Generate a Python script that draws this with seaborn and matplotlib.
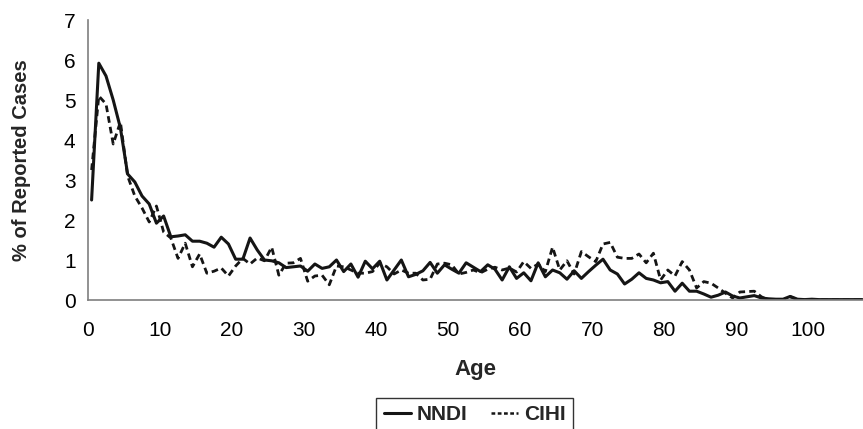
import numpy as np
import pandas as pd
import matplotlib
matplotlib.use("Agg")
import matplotlib.pyplot as plt
from matplotlib.lines import Line2D
import seaborn as sns

# Age groups 0..107 and the share of reported cases in each, by data source
ages = list(range(108))

nndi = [2.5, 5.92, 5.6, 5.0, 4.3, 3.15, 2.95, 2.6, 2.4, 1.92,
        2.1, 1.58, 1.6, 1.63, 1.47, 1.47, 1.42, 1.32, 1.57, 1.4,
        1.02, 1.02, 1.55, 1.25, 1.0, 0.98, 0.93, 0.81, 0.83, 0.85,
        0.72, 0.9, 0.79, 0.83, 1.0, 0.71, 0.9, 0.57, 0.97, 0.78,
        0.97, 0.5, 0.75, 1.0, 0.58, 0.64, 0.73, 0.94, 0.67, 0.88,
        0.77, 0.67, 0.93, 0.82, 0.71, 0.88, 0.77, 0.5, 0.83, 0.54,
        0.68, 0.48, 0.93, 0.58, 0.75, 0.68, 0.52, 0.73, 0.54, 0.71,
        0.87, 1.02, 0.75, 0.65, 0.4, 0.52, 0.68, 0.54, 0.5, 0.43,
        0.46, 0.22, 0.42, 0.22, 0.22, 0.15, 0.07, 0.12, 0.2, 0.1,
        0.05, 0.08, 0.11, 0.05, 0.03, 0.02, 0.02, 0.09, 0.02, 0.01,
        0.02, 0.01, 0.01, 0.01, 0.01, 0.01, 0.01, 0.01]

cihi = [3.25, 5.1, 4.9, 3.9, 4.45, 3.1, 2.6, 2.3, 1.95, 2.35,
        1.7, 1.55, 1.04, 1.42, 0.83, 1.15, 0.67, 0.72, 0.8, 0.6,
        0.85, 1.04, 0.9, 1.05, 0.98, 1.32, 0.62, 0.92, 0.93, 1.04,
        0.47, 0.6, 0.62, 0.38, 0.85, 0.83, 0.75, 0.67, 0.67, 0.71,
        0.92, 0.83, 0.65, 0.75, 0.67, 0.67, 0.5, 0.52, 0.9, 0.92,
        0.88, 0.65, 0.69, 0.75, 0.68, 0.77, 0.82, 0.75, 0.8, 0.7,
        0.96, 0.79, 0.9, 0.71, 1.32, 0.75, 0.98, 0.65, 1.21, 1.08,
        0.96, 1.4, 1.44, 1.07, 1.04, 1.04, 1.15, 0.93, 1.17, 0.5,
        0.75, 0.6, 0.96, 0.75, 0.3, 0.46, 0.42, 0.3, 0.17, 0.05,
        0.2, 0.21, 0.22, 0.08, 0.0, 0.0, 0.0, 0.08, 0.01, 0.0,
        0.0, 0.0, 0.0, 0.0, 0.0, 0.0, 0.0, 0.0]

series_names = ["NNDI", "CIHI"]
x_ticks = list(range(0, 101, 10))
y_ticks = list(range(0, 8))

df = pd.DataFrame({"Age": ages, "NNDI": nndi, "CIHI": cihi})
# each age group is drawn at the middle of its one-year interval
df["pos"] = df["Age"] + 0.5

sns.set_theme(style="white")
plt.rcParams["font.family"] = ["Liberation Sans", "DejaVu Sans"]

W, H = 863, 429
fig = plt.figure(figsize=(W / 100, H / 100), dpi=100)
ax = fig.add_axes([88 / W, (H - 300) / H, 1 - 88 / W, 280 / H])

ink = "#151515"
solid_style = dict(color=ink, lw=2.2)
dash_style = dict(color=ink, lw=2.0, linestyle=(0, (2.4, 1.5)))

sns.lineplot(data=df, x="pos", y="NNDI", ax=ax, **solid_style)
sns.lineplot(data=df, x="pos", y="CIHI", ax=ax, **dash_style)

ax.set_xlim(0, 107.6)
ax.set_ylim(0, 7)
ax.set_xticks(x_ticks)
ax.set_yticks(y_ticks)
ax.set_xticklabels([str(t) for t in x_ticks], fontsize=15)
ax.set_yticklabels([str(t) for t in y_ticks], fontsize=15)

for s in ["top", "right"]:
    ax.spines[s].set_visible(False)
for s in ["left", "bottom"]:
    ax.spines[s].set_color("#7f7f7f")
    ax.spines[s].set_linewidth(1.2)
ax.tick_params(axis="both", which="major", direction="out", length=4,
               width=1.2, color="#7f7f7f", labelcolor="black")
ax.tick_params(axis="x", pad=11)
ax.tick_params(axis="y", pad=5)

ax.set_xlabel("Age", fontsize=16, fontweight="bold")
ax.set_ylabel("% of Reported Cases", fontsize=14.5, fontweight="bold")
ax.xaxis.set_label_coords((475 - 88) / 775, -0.21)
ax.yaxis.set_label_coords(-0.073, 0.5)

handles = [Line2D([], [], color=ink, lw=2.2),
           Line2D([], [], color=ink, lw=1.8, linestyle=(0, (1.5, 1.0)))]
leg = fig.legend(handles, series_names, loc="upper center",
                 bbox_to_anchor=(474.5 / W, 1 - 398 / H), ncol=2,
                 frameon=True, fancybox=False, edgecolor="black",
                 prop={"weight": "bold", "size": 15},
                 handlelength=1.3, handletextpad=0.3, columnspacing=1.1,
                 borderpad=0.35, borderaxespad=0)
leg.get_frame().set_linewidth(1.0)

fig.savefig("out.png", dpi=100)
